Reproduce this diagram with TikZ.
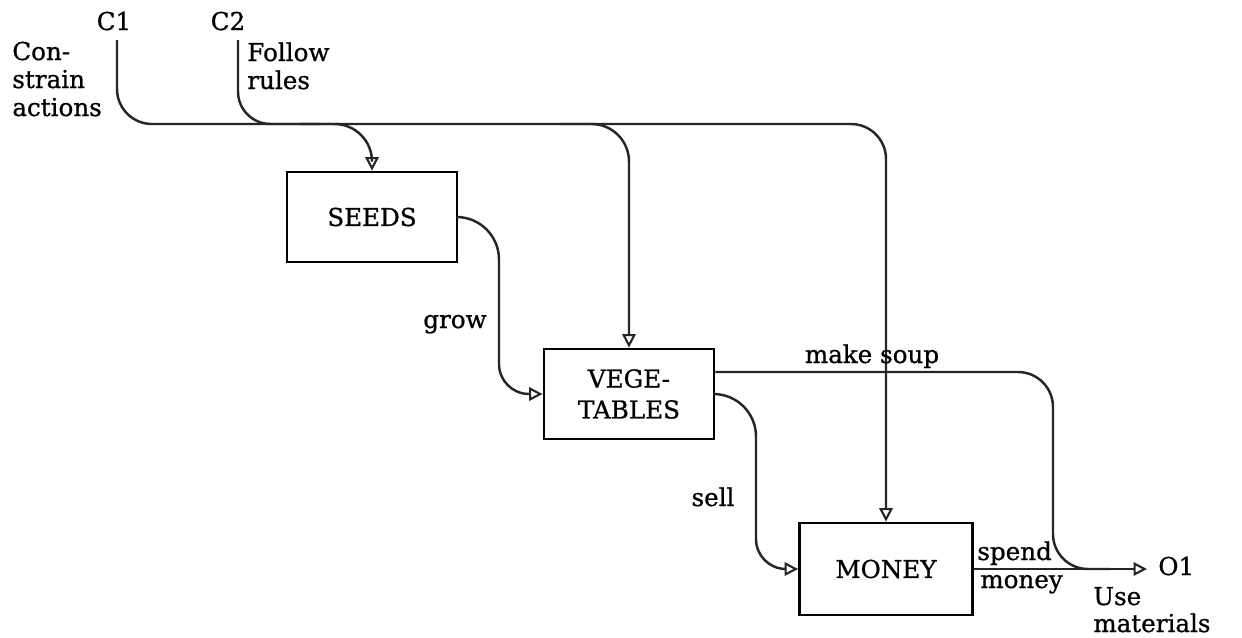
\documentclass[tikz,border=0pt]{standalone}
\usepackage{fontspec}
\setmainfont{DejaVu Serif}[FakeBold=0.8]
\usetikzlibrary{arrows.meta}
\begin{document}
\begin{tikzpicture}[x=0.02cm, y=-0.02cm,
  font=\fontsize{14}{16}\selectfont,
  flow/.style={line width=1.4pt, draw=black!85},
  tip/.style={-{Triangle[open, length=0.27cm, width=0.27cm, line width=1.2pt]}},
  activity/.style={draw, line width=1.6pt, minimum width=3.4cm, minimum height=1.8cm,
    inner sep=0pt, align=center, font=\fontsize{14}{17.6}\selectfont},
  lbl/.style={inner sep=0pt, anchor=base},
  lblw/.style={inner sep=0pt, anchor=base west},
]
\useasboundingbox (0,0) rectangle (1242,637);

% activity boxes
\node[activity] (seeds) at (372,217) {SEEDS};
\node[activity] (vege) at (629,394) {VEGE-\\TABLES};
\node[activity, minimum width=3.46cm, minimum height=1.84cm] (money) at (886,569) {MONEY};

% helper coordinates for the routed connectors
\coordinate (c1) at (117,40);
\coordinate (c2) at (238,40);
\coordinate (trunk) at (0,124);
\coordinate (growx) at (499,0);
\coordinate (sellx) at (756,0);
\coordinate (soupx) at (1053,0);
\coordinate (o1) at (1147,569);
\coordinate (c2join) at (320,124);
\coordinate (seedsbranch) at (300,124);
\coordinate (vegebranch) at (560,124);
\coordinate (soupjoin) at (1110,569);
\coordinate (soupout) at ([yshift=0.44cm]vege.east);

% control lines
\draw[flow, tip, rounded corners=0.7cm] (c1) |- (money.north |- trunk) -- (money.north);
\draw[flow, rounded corners=0.65cm] (c2) |- (c2join);
\draw[flow, tip, rounded corners=0.75cm] (seedsbranch) -| (seeds.north);
\draw[flow, tip, rounded corners=0.75cm] (vegebranch) -| (vege.north);

% flows between activities: wide upper bend, tighter bend before the arrow
\draw[flow, tip, rounded corners=0.85cm] (seeds.east) -- (seeds.east -| growx)
  [rounded corners=0.6cm] -- (growx |- vege.west) -- (vege.west);
\draw[flow, tip, rounded corners=0.85cm] (vege.east) -- (vege.east -| sellx)
  [rounded corners=0.6cm] -- (sellx |- money.west) -- (money.west);
\draw[flow, rounded corners=0.7cm] (soupout) -- (soupout -| soupx)
  -- (soupx |- o1) -- (soupjoin);
\draw[flow, tip] (money.east) -- (o1);

% labels
\node[lbl] (tc1) at (114,30) {C1};
\node[lbl] (tc2) at (228,30) {C2};
\node[lblw] (tcon) at (12,60) {Con-};
\node[lblw] (tstrain) at (12,88) {strain};
\node[lblw] (tactions) at (12,116) {actions};
\node[lblw] (tfollow) at (247,61) {Follow};
\node[lblw] (trules) at (247,89) {rules};
\node[lbl] (tgrow) at (455,328) {grow};
\node[lbl] (tsell) at (713,506) {sell};
\node[lbl] (tsoup) at (872,363) {make soup};
\node[lblw] (tspend) at (977,560) {spend};
\node[lblw] (tmoney) at (980,588) {money};
\node[lblw] (to1) at (1158,575) {O1};
\node[lblw] (tuse) at (1093,605) {Use};
\node[lblw] (tmat) at (1093,632) {materials};
\end{tikzpicture}
\end{document}
